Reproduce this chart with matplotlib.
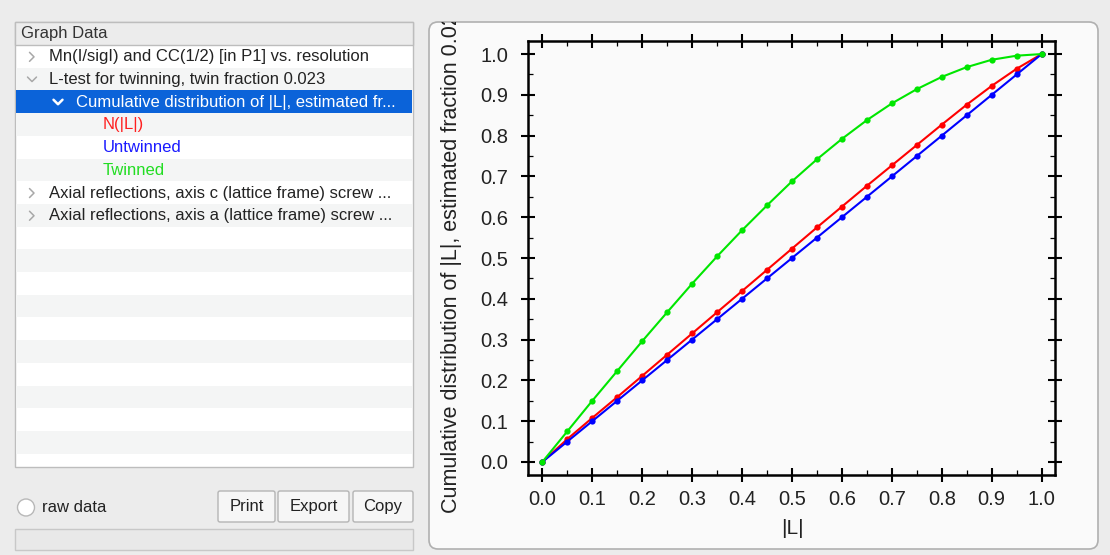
import matplotlib
matplotlib.use("Agg")
import matplotlib.pyplot as plt
from matplotlib.patches import Rectangle, FancyBboxPatch, Circle
from matplotlib.transforms import Bbox, TransformedBbox

# ---------------- data ----------------
L_abs = [0.00, 0.05, 0.10, 0.15, 0.20, 0.25, 0.30, 0.35, 0.40, 0.45, 0.50,
         0.55, 0.60, 0.65, 0.70, 0.75, 0.80, 0.85, 0.90, 0.95, 1.00]
n_obs = [0.000, 0.056, 0.108, 0.159, 0.211, 0.263, 0.315, 0.367, 0.419, 0.471, 0.523,
         0.575, 0.626, 0.677, 0.727, 0.777, 0.827, 0.876, 0.922, 0.964, 1.000]
untwinned = [0.00, 0.05, 0.10, 0.15, 0.20, 0.25, 0.30, 0.35, 0.40, 0.45, 0.50,
             0.55, 0.60, 0.65, 0.70, 0.75, 0.80, 0.85, 0.90, 0.95, 1.00]
twinned = [0.000, 0.075, 0.150, 0.223, 0.296, 0.367, 0.437, 0.504, 0.568, 0.629, 0.688,
           0.742, 0.792, 0.838, 0.879, 0.914, 0.944, 0.968, 0.986, 0.996, 1.000]
series_names = ["N(|L|)", "Untwinned", "Twinned"]
series_colors = ["#ff0000", "#0000ff", "#00e600"]
x_ticks = [0.0, 0.1, 0.2, 0.3, 0.4, 0.5, 0.6, 0.7, 0.8, 0.9, 1.0]
y_ticks = [0.0, 0.1, 0.2, 0.3, 0.4, 0.5, 0.6, 0.7, 0.8, 0.9, 1.0]
tree_items = ["Mn(I/sigI) and CC(1/2) [in P1] vs. resolution",
              "L-test for twinning, twin fraction 0.023",
              "Cumulative distribution of |L|, estimated fr...",
              "N(|L|)", "Untwinned", "Twinned",
              "Axial reflections, axis c (lattice frame) screw ...",
              "Axial reflections, axis a (lattice frame) screw ..."]
y_label = "Cumulative distribution of |L|, estimated fraction 0.023"
x_label = "|L|"

plt.rcParams['font.family'] = ['Liberation Sans', 'DejaVu Sans']

W, H = 1110, 555
fig = plt.figure(figsize=(W / 100, H / 100), dpi=100, facecolor="#ececec")

# background / GUI axes in pixel coordinates
bg = fig.add_axes([0, 0, 1, 1])
bg.set_xlim(0, W)
bg.set_ylim(H, 0)
bg.axis("off")

# ---- left tree panel ----
bx0, by0, bx1, by1 = 15, 22, 413, 467
bg.add_patch(Rectangle((bx0, by0), bx1 - bx0, by1 - by0, facecolor="white",
                       edgecolor="#bdbdbd", lw=1.0, zorder=1))
row_h = 22.7
row0 = 45
for i in range(19):
    y = row0 + i * row_h
    if y >= by1:
        break
    h = min(row_h, by1 - y)
    if i % 2 == 1:
        bg.add_patch(Rectangle((bx0 + 1, y), bx1 - bx0 - 2, h, facecolor="#f4f5f5",
                               edgecolor="none", zorder=1.5))
# header
bg.add_patch(Rectangle((bx0, by0), bx1 - bx0, row0 - by0, facecolor="#ececec",
                       edgecolor="#bdbdbd", lw=1.0, zorder=2))
bg.text(21, 33.5, "Graph Data", fontsize=12, color="#333333", va="center", ha="left", zorder=3)
# selected row
bg.add_patch(Rectangle((bx0 + 1, row0 + 2 * row_h), bx1 - bx0 - 2, row_h,
                       facecolor="#0b63d9", edgecolor="none", zorder=2))

tree_x = [49, 49, 76, 103, 103, 103, 49, 49]
tree_col = ["#222222", "#222222", "white", "#ff2020", "#1a1aff", "#22dd22", "#222222", "#222222"]
for i, (s, x, c) in enumerate(zip(tree_items, tree_x, tree_col)):
    yc = row0 + i * row_h + row_h / 2 + 0.5
    bg.text(x, yc, s, fontsize=12, color=c, va="center", ha="left", zorder=3)

# chevrons
def chev_right(xc, yc, col, lw=1.1):
    bg.plot([xc - 2.5, xc + 2, xc - 2.5], [yc - 4.5, yc, yc + 4.5], color=col, lw=lw,
            solid_capstyle="round", solid_joinstyle="round", zorder=3)

def chev_down(xc, yc, col, lw=1.1):
    bg.plot([xc - 4.5, xc, xc + 4.5], [yc - 2.5, yc + 2, yc - 2.5], color=col, lw=lw,
            solid_capstyle="round", solid_joinstyle="round", zorder=3)

for i in (0, 6, 7):
    chev_right(32, row0 + i * row_h + row_h / 2 + 0.5, "#a8a8a8")
chev_down(32, row0 + 1 * row_h + row_h / 2 + 0.5, "#a8a8a8")
chev_down(58, row0 + 2 * row_h + row_h / 2 + 0.5, "white", lw=1.8)

# bottom controls
bg.add_patch(Circle((26, 507.5), 8.5, facecolor="white", edgecolor="#b8b8b8", lw=1.0, zorder=2))
bg.text(42, 508, "raw data", fontsize=12, color="#222222", va="center", ha="left", zorder=3)
for (x0, x1, lab) in [(218, 275, "Print"), (278, 349, "Export"), (353, 413, "Copy")]:
    bg.add_patch(FancyBboxPatch((x0, 491), x1 - x0, 31,
                                boxstyle="round,pad=0,rounding_size=2",
                                facecolor="#f6f6f6", edgecolor="#b4b4b4", lw=1.0, zorder=2))
    bg.text((x0 + x1) / 2, 506.5, lab, fontsize=12, color="#222222",
            va="center", ha="center", zorder=3)
bg.add_patch(Rectangle((15, 529), 398, 21, facecolor="#e9e9e9", edgecolor="#c8c8c8",
                       lw=1.0, zorder=2))

# ---- plot panel ----
px0, py0, px1, py1 = 429, 22, 1098, 549
bg.add_patch(FancyBboxPatch((px0, py0), px1 - px0, py1 - py0,
                            boxstyle="round,pad=0,rounding_size=9",
                            facecolor="#fafafa", edgecolor="#b0b0b0", lw=1.2, zorder=1))

# ---- chart axes ----
ax_l, ax_t, ax_r, ax_b = 528, 41, 1055, 475
ax = fig.add_axes([ax_l / W, 1 - ax_b / H, (ax_r - ax_l) / W, (ax_b - ax_t) / H])
ax.set_facecolor("#fafafa")
for sp in ax.spines.values():
    sp.set_linewidth(1.8)
    sp.set_color("black")

for vals, name, col in zip([n_obs, untwinned, twinned], series_names, series_colors):
    ax.plot(L_abs, vals, color=col, lw=1.5, marker="o", markersize=4.5,
            markeredgewidth=0, label=name, clip_on=False, zorder=3)

ax.set_xlim(-0.0287, 1.0267)
ax.set_ylim(-0.032, 1.032)
ax.set_xticks(x_ticks)
ax.set_yticks(y_ticks)
ax.set_xticklabels([f"{v:.1f}" for v in x_ticks])
ax.set_yticklabels([f"{v:.1f}" for v in y_ticks])
ax.set_xticks([v + 0.05 for v in x_ticks[:-1]], minor=True)
ax.set_yticks([v + 0.05 for v in y_ticks[:-1]], minor=True)
ax.tick_params(which="major", direction="inout", length=9.5, width=1.5,
               top=True, right=True, labelsize=14.5, labelcolor="#222222")
ax.tick_params(which="minor", direction="in", length=3.6, width=0.9,
               top=True, right=True)
ax.tick_params(axis="x", which="major", pad=6)
ax.tick_params(axis="y", which="major", pad=9.5)

fig.text(792 / W, 1 - 528 / H, x_label, fontsize=15, color="#222222", ha="center", va="center")
yl = fig.text(451 / W, 1 - 513 / H, y_label, fontsize=15.5, color="#222222",
              rotation=90, ha="center", va="bottom")
yl.set_clip_on(True)
yl.set_clip_box(TransformedBbox(Bbox.from_extents(px0, py1, px1, py0), bg.transData))

fig.savefig("out.png", dpi=100, facecolor=fig.get_facecolor())
